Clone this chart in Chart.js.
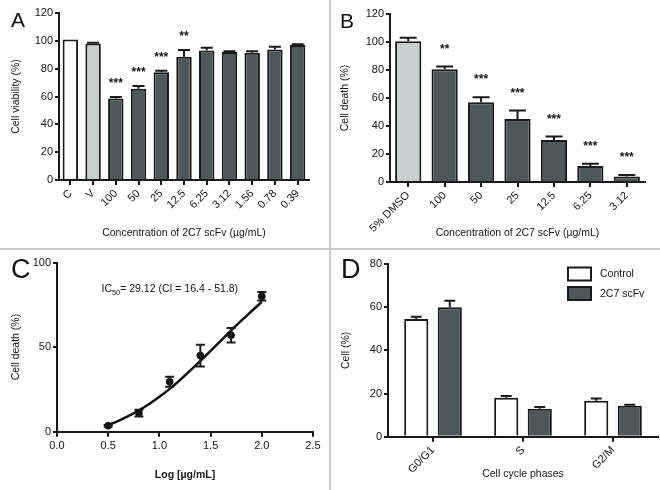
<!DOCTYPE html>
<html><head><meta charset="utf-8">
<script src="https://cdn.jsdelivr.net/npm/chart.js@4/dist/chart.umd.min.js"></script>
<style>
html,body{margin:0;padding:0;background:#fff;}
#wrap{position:relative;width:660px;height:490px;overflow:hidden;background:#fff;}
canvas{position:absolute;}
.sep{position:absolute;background:#c9c9c9;}
</style></head><body>
<div id="wrap">
<canvas id="cA" width="330" height="248" style="left:0;top:0"></canvas>
<canvas id="cB" width="330" height="248" style="left:330px;top:0"></canvas>
<canvas id="cC" width="330" height="240" style="left:0;top:250px"></canvas>
<canvas id="cD" width="330" height="240" style="left:330px;top:250px"></canvas>
<div class="sep" style="left:329px;top:0;width:2px;height:490px"></div>
<div class="sep" style="left:0;top:248px;width:660px;height:2px"></div>
</div>
<script>
// ---------- data ----------
const catsA = ['C','V','100','50','25','12.5','6.25','3.12','1.56','0.78','0.39'];
const viabilityA = [101, 98, 58.5, 65.5, 77.5, 88.5, 93, 92, 91.5, 93.8, 97];
const errA = [0, 0.7, 1.2, 2, 1, 5, 2, 0.5, 1, 2, 0.5];
const starsA = ['', '', '***', '***', '***', '**', '', '', '', '', ''];

const catsB = ['5% DMSO','100','50','25','12.5','6.25','3.12'];
const deathB = [100.5, 80.5, 57, 45, 30, 11.5, 4];
const errB = [2.5, 2, 3.5, 6, 2.5, 1.5, 1];
const starsB = ['', '**', '***', '***', '***', '***', '***'];

const logDoseC = [0.5, 0.8, 1.1, 1.4, 1.7, 2.0];
const deathC = [3.5, 11, 29.5, 45, 57, 80];
const errC = [0.5, 2, 3, 6.4, 4.3, 2.5];
const fitX = [0.5,0.6,0.7,0.8,0.9,1.0,1.1,1.2,1.3,1.4,1.5,1.6,1.7,1.8,1.9,2.0];
const fitY = [3.9,6.4,9.3,12.6,16.4,20.6,25.3,30.5,36.1,41.9,47.8,53.8,59.8,65.6,71.2,76.8];

const phasesD = ['G0/G1','S','G2/M'];
const controlD = [54.5, 18, 16.7];
const scfvD = [60, 13, 14.3];
const errControlD = [1.1, 0.8, 1];
const errScfvD = [3, 0.8, 0.5];

// ---------- styles ----------
const FONT = "'Liberation Sans', Arial, Helvetica, sans-serif";
const INK = '#1a1a1a';
const TXT = '#151515';
const DARK = '#4e5759';
const LIGHT = '#c7cfcf';
Chart.defaults.font.family = FONT;
Chart.defaults.color = TXT;
Chart.defaults.animation = false;

const errPlugin = {
  id: 'errbars',
  afterDatasetsDraw(chart, args, opts) {
    const ctx = chart.ctx, ys = chart.scales.y;
    (opts.sets || []).forEach(s => {
      const meta = chart.getDatasetMeta(s.dataset);
      const ds = chart.data.datasets[s.dataset];
      meta.data.forEach((el, j) => {
        const d = ds.data[j];
        const v = (typeof d === 'object') ? d.y : d;
        const e = s.err[j];
        if (!e) return;
        const x = el.x;
        const top = ys.getPixelForValue(v + e);
        const bot = s.both ? ys.getPixelForValue(v - e) : el.y;
        ctx.save();
        ctx.strokeStyle = INK; ctx.lineWidth = 2;
        ctx.beginPath();
        ctx.moveTo(x, bot); ctx.lineTo(x, top);
        ctx.moveTo(x - s.cap / 2, top); ctx.lineTo(x + s.cap / 2, top);
        if (s.both) { ctx.moveTo(x - s.cap / 2, bot); ctx.lineTo(x + s.cap / 2, bot); }
        ctx.stroke();
        if (s.stars) {
          const t = s.stars[j];
          if (t) {
            ctx.fillStyle = TXT;
            ctx.font = 'bold 12px ' + FONT;
            ctx.textAlign = 'center';
            ctx.textBaseline = 'alphabetic';
            ctx.fillText(t, x, top - s.starGap + 8);
          }
        }
        ctx.restore();
      });
    });
  }
};

const textPlugin = {
  id: 'paneltext',
  afterDraw(chart, args, opts) {
    const ctx = chart.ctx;
    (opts.items || []).forEach(it => {
      ctx.save();
      ctx.fillStyle = '#111';
      ctx.textBaseline = 'alphabetic';
      ctx.textAlign = 'left';
      let x = it.x;
      it.parts.forEach(p => {
        ctx.font = (p.sub ? (it.size * 0.7) : it.size) + 'px ' + FONT;
        ctx.fillText(p.t, x, it.y + (p.sub ? 3 : 0));
        x += ctx.measureText(p.t).width;
      });
      ctx.restore();
    });
  }
};

const legendPlugin = {
  id: 'boxlegend',
  afterDraw(chart, args, opts) {
    if (!opts.show) return;
    const ctx = chart.ctx;
    chart.data.datasets.forEach((ds, i) => {
      const y = opts.y + i * opts.step;
      ctx.save();
      ctx.fillStyle = ds.backgroundColor;
      ctx.fillRect(opts.x, y, 23, 13);
      ctx.strokeStyle = INK; ctx.lineWidth = 2;
      ctx.strokeRect(opts.x, y, 23, 13);
      ctx.fillStyle = TXT;
      ctx.font = '10.5px ' + FONT;
      ctx.textBaseline = 'middle';
      ctx.fillText(ds.label, opts.x + 32, y + 7);
      ctx.restore();
    });
  }
};

function yScale(max, step, width, titleText, titlePad) {
  return {
    min: 0, max: max,
    ticks: { stepSize: step, padding: 2, font: { size: 11 }, color: TXT },
    grid: { drawOnChartArea: false, drawTicks: true, tickLength: 4, color: INK, lineWidth: 2 },
    border: { display: true, color: INK, width: 2 },
    title: { display: true, text: titleText, font: { size: 10.5 }, color: TXT, padding: { top: titlePad, bottom: 0 } },
    afterFit: s => { s.width = width; }
  };
}
function xCat(height, titleText, titlePadBottom, bold) {
  return {
    offset: true,
    ticks: { minRotation: 45, maxRotation: 45, autoSkip: false, padding: 2, font: { size: 11 }, color: TXT },
    grid: { offset: false, drawOnChartArea: false, drawTicks: true, tickLength: 5, color: INK, lineWidth: 2 },
    border: { display: true, color: INK, width: 2 },
    title: { display: true, text: titleText, font: { size: 10.5, weight: bold ? 'bold' : 'normal' }, color: TXT, padding: { top: 0, bottom: titlePadBottom } },
    afterFit: s => { s.height = height; }
  };
}
const basePlugins = { legend: { display: false }, tooltip: { enabled: false } };

// ---------- A ----------
new Chart(document.getElementById('cA'), {
  type: 'bar',
  data: { labels: catsA, datasets: [{
    data: viabilityA,
    backgroundColor: catsA.map((c, i) => i === 0 ? '#ffffff' : (i === 1 ? LIGHT : DARK)),
    borderColor: INK, borderWidth: 2, categoryPercentage: 1, barPercentage: 0.68
  }]},
  options: {
    responsive: false, events: [],
    layout: { padding: { top: 13, right: 21, left: 0, bottom: 0 } },
    scales: { x: xCat(68, 'Concentration of 2C7 scFv (µg/mL)', 8.7), y: yScale(120, 20, 59, 'Cell viability (%)', 9.7) },
    plugins: Object.assign({}, basePlugins, {
      errbars: { sets: [{ dataset: 0, err: errA, cap: 12, stars: starsA, starGap: 18 }] },
      paneltext: { items: [{ x: 11, y: 27, size: 21, parts: [{ t: 'A' }] }] }
    })
  },
  plugins: [errPlugin, textPlugin]
});

// ---------- B ----------
new Chart(document.getElementById('cB'), {
  type: 'bar',
  data: { labels: catsB, datasets: [{
    data: deathB,
    backgroundColor: catsB.map((c, i) => i === 0 ? LIGHT : DARK),
    borderColor: INK, borderWidth: 2, categoryPercentage: 1, barPercentage: 0.72
  }]},
  options: {
    responsive: false, events: [],
    layout: { padding: { top: 14, right: 15, left: 0, bottom: 0 } },
    scales: { x: xCat(66, 'Concentration of 2C7 scFv (µg/mL)', 8.7), y: yScale(120, 20, 60, 'Cell death (%)', 8.7) },
    plugins: Object.assign({}, basePlugins, {
      errbars: { sets: [{ dataset: 0, err: errB, cap: 17, stars: starsB, starGap: 22 }] },
      paneltext: { items: [{ x: 10, y: 28, size: 21, parts: [{ t: 'B' }] }] }
    })
  },
  plugins: [errPlugin, textPlugin]
});

// ---------- C ----------
new Chart(document.getElementById('cC'), {
  type: 'scatter',
  data: { datasets: [
    { data: fitX.map((x, i) => ({ x: x, y: fitY[i] })), showLine: true, cubicInterpolationMode: 'monotone',
      borderColor: '#111', borderWidth: 2.5, pointRadius: 0, fill: false },
    { data: logDoseC.map((x, i) => ({ x: x, y: deathC[i] })), pointRadius: 3.8,
      backgroundColor: '#111', borderColor: '#111', borderWidth: 0 }
  ]},
  options: {
    responsive: false, events: [],
    layout: { padding: { top: 12.5, right: 17, left: 0, bottom: 0 } },
    scales: {
      x: {
        type: 'linear', min: 0, max: 2.5,
        ticks: { stepSize: 0.5, padding: 3, font: { size: 11 }, color: TXT, callback: v => Number(v).toFixed(1) },
        grid: { drawOnChartArea: false, drawTicks: true, tickLength: 5, color: INK, lineWidth: 2 },
        border: { display: true, color: INK, width: 2 },
        title: { display: true, text: 'Log [µg/mL]', font: { size: 10.5, weight: 'bold' }, color: TXT, padding: { top: 0, bottom: 8.7 } },
        afterFit: s => { s.height = 58.3; }
      },
      y: yScale(100, 50, 57, 'Cell death (%)', 9.7)
    },
    plugins: Object.assign({}, basePlugins, {
      errbars: { sets: [{ dataset: 1, err: errC, cap: 9, both: true }] },
      paneltext: { items: [
        { x: 11, y: 28, size: 27, parts: [{ t: 'C' }] },
        { x: 101.5, y: 41.5, size: 10.5, parts: [{ t: 'IC' }, { t: '50', sub: true }, { t: '= 29.12 (CI = 16.4 - 51.8)' }] }
      ] }
    })
  },
  plugins: [errPlugin, textPlugin]
});

// ---------- D ----------
new Chart(document.getElementById('cD'), {
  type: 'bar',
  data: { labels: phasesD, datasets: [
    { label: 'Control', data: controlD, backgroundColor: '#ffffff', borderColor: INK, borderWidth: 2, categoryPercentage: 0.745, barPercentage: 0.72 },
    { label: '2C7 scFv', data: scfvD, backgroundColor: DARK, borderColor: INK, borderWidth: 2, categoryPercentage: 0.745, barPercentage: 0.72 }
  ]},
  options: {
    responsive: false, events: [],
    layout: { padding: { top: 14, right: 2, left: 0, bottom: 0 } },
    scales: { x: xCat(53.3, 'Cell cycle phases', 9.7), y: yScale(80, 20, 58, 'Cell (%)', 9.7) },
    plugins: Object.assign({}, basePlugins, {
      errbars: { sets: [{ dataset: 0, err: errControlD, cap: 11 }, { dataset: 1, err: errScfvD, cap: 11 }] },
      paneltext: { items: [{ x: 11, y: 28, size: 27, parts: [{ t: 'D' }] }] },
      boxlegend: { show: true, x: 238, y: 17.5, step: 19.5 }
    })
  },
  plugins: [errPlugin, textPlugin, legendPlugin]
});
</script>
</body></html>
